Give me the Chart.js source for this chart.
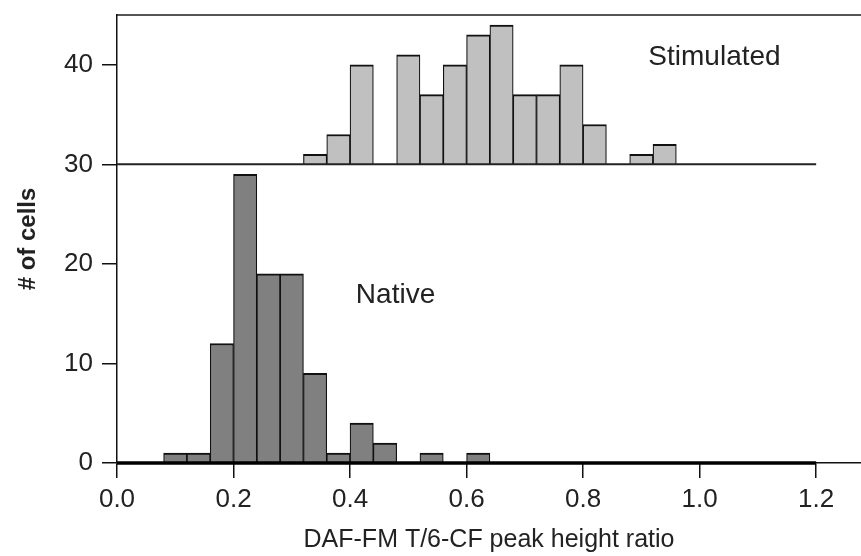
<!DOCTYPE html>
<html><head><meta charset="utf-8">
<script src="https://cdn.jsdelivr.net/npm/chart.js@4"></script>
<style>html,body{margin:0;padding:0;background:#fff}#wrap{width:861px;height:556px}</style>
</head><body><div id="wrap"><canvas id="c" width="861" height="556"></canvas></div>
<script>
// ---- data ----
const binStarts = [0.00,0.04,0.08,0.12,0.16,0.20,0.24,0.28,0.32,0.36,0.40,0.44,0.48,0.52,0.56,0.60,0.64,0.68,0.72,0.76,0.80,0.84,0.88,0.92,0.96,1.00,1.04,1.08,1.12,1.16];
const binWidth = 0.04;
const nativeCounts     = [0,0,1,1,12,29,19,19,9,1,4,2,0,1,0,1,0,0,0,0,0,0,0,0,0,0,0,0,0,0];
const stimulatedCounts = [0,0,0,0,0,0,0,0,1,3,10,0,11,7,10,13,14,7,7,10,4,0,1,2,0,0,0,0,0,0];
const stimulatedBase = 30;
const histRange = [0.0, 1.2];
const xTickValues = [0.0,0.2,0.4,0.6,0.8,1.0,1.2];
const yTickValues = [0,10,20,30,40];
const seriesNames = ['Native','Stimulated'];
const xTitle = 'DAF-FM T/6-CF peak height ratio';
const yTitle = '# of cells';

const FONT = "'Liberation Sans', Arial, Helvetica, sans-serif";
Chart.defaults.font.family = FONT;

const nativeData = binStarts.map((s,i)=>({x: s + binWidth/2, y: nativeCounts[i]}));
const stimData = binStarts.map((s,i)=>({x: s + binWidth/2, y: [stimulatedBase, stimulatedBase + stimulatedCounts[i]]}));
const nativeBaseline = histRange.map(x=>({x, y: 0}));
const stimBaseline = histRange.map(x=>({x, y: stimulatedBase}));

const labelPlugin = {
  id: 'histLabels',
  afterDatasetsDraw(chart, args, opts) {
    const {ctx, scales} = chart;
    ctx.save();
    ctx.font = opts.font;
    ctx.fillStyle = opts.color;
    ctx.textBaseline = 'middle';
    ctx.textAlign = 'left';
    opts.items.forEach(it => ctx.fillText(it.text, scales.x.getPixelForValue(it.x), scales.y.getPixelForValue(it.y)));
    ctx.restore();
  }
};

const barBorder = {top: 2, left: 1.2, right: 1.2, bottom: 0};

new Chart(document.getElementById('c'), {
  type: 'bar',
  data: {
    datasets: [
      {type: 'line', label: 'native baseline', data: nativeBaseline, borderColor: '#000', borderWidth: 3.5, pointRadius: 0, clip: false, order: 0},
      {type: 'line', label: 'stimulated baseline', data: stimBaseline, borderColor: '#222', borderWidth: 2, pointRadius: 0, clip: false, order: 0},
      {label: seriesNames[0], data: nativeData, backgroundColor: '#808080', borderColor: '#111', borderWidth: barBorder, borderSkipped: 'start', grouped: false, barPercentage: 1, categoryPercentage: 1, clip: false, order: 1},
      {label: seriesNames[1], data: stimData, backgroundColor: '#c0c0c0', borderColor: '#111', borderWidth: barBorder, borderSkipped: 'start', grouped: false, barPercentage: 1, categoryPercentage: 1, clip: false, order: 1}
    ]
  },
  plugins: [labelPlugin],
  options: {
    responsive: false,
    animation: false,
    layout: {padding: 0},
    plugins: {
      legend: {display: false},
      tooltip: {enabled: false},
      histLabels: {
        font: `28px ${FONT}`,
        color: '#222',
        items: [
          {text: seriesNames[1], x: 0.912, y: 40.8},
          {text: seriesNames[0], x: 0.41, y: 16.8}
        ]
      }
    },
    scales: {
      x: {
        type: 'linear', position: 'bottom', min: 0, max: 1.277, offset: false,
        afterFit(s) { s.height = 93; s.paddingLeft = 0; s.paddingRight = 0; },
        afterBuildTicks(s) { s.ticks = xTickValues.map(v => ({value: v})); },
        grid: {display: true, drawOnChartArea: false, offset: false, tickLength: 15, color: '#111', lineWidth: 1.5},
        border: {display: true, color: '#111', width: 1.5},
        ticks: {padding: 6, font: {size: 26}, color: '#222', maxRotation: 0, autoSkip: false, callback: v => Number(v).toFixed(1)},
        title: {display: true, text: xTitle, font: {size: 25}, color: '#222', padding: {top: 0, bottom: 1}}
      },
      xTop: {
        type: 'linear', position: 'top', min: 0, max: 1.277, offset: false,
        afterFit(s) { s.height = 15; s.paddingLeft = 0; s.paddingRight = 0; },
        grid: {display: false},
        ticks: {display: false},
        border: {display: true, color: '#555', width: 2}
      },
      y: {
        type: 'linear', position: 'left', min: 0, max: 45,
        afterFit(s) { s.width = 117; s.paddingTop = 0; s.paddingBottom = 0; },
        afterBuildTicks(s) { s.ticks = yTickValues.map(v => ({value: v})); },
        grid: {display: true, drawOnChartArea: false, tickLength: 15, color: '#111', lineWidth: 1.5},
        border: {display: true, color: '#111', width: 1.5},
        ticks: {padding: 9, font: {size: 26}, color: '#222'},
        title: {display: true, text: yTitle, font: {size: 24, weight: 'bold'}, color: '#222', padding: {top: 14, bottom: 0}}
      }
    }
  }
});
</script>
</body></html>
